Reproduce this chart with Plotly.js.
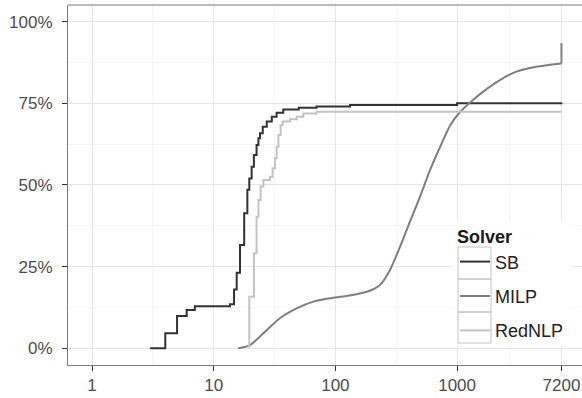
<!DOCTYPE html>
<html>
<head>
<meta charset="utf-8">
<script src="https://cdn.plot.ly/plotly-3.0.1.min.js"></script>
<style>html,body{margin:0;padding:0;background:#fff;}#chart{width:582px;height:398px;}</style>
</head>
<body>
<div id="chart"></div>
<script>
// ---- data ----
const solverNames = ["SB", "MILP", "RedNLP"];

const timeSB   = [3, 4, 5, 6, 7, 13.6, 14.7, 15.45, 16.45, 17.8, 18.9, 19.6, 20.5, 21.4, 22.5, 23.3, 24.0, 25.3, 27.3, 30.0, 32.9, 37.3, 50, 70, 132, 1000, 7200];
const solvedSB = [0, 0.046, 0.099, 0.117, 0.129, 0.135, 0.18, 0.231, 0.316, 0.413, 0.485, 0.52, 0.556, 0.592, 0.622, 0.643, 0.658, 0.678, 0.694, 0.709, 0.721, 0.731, 0.736, 0.74, 0.745, 0.75, 0.752];

const timeMILP   = [15.9, 19.9, 25.6, 35, 48, 65.8, 90.1, 123, 181, 232, 281, 340, 409, 496, 600, 726, 878, 1062, 1350, 1627, 2247, 3069, 4470, 7200, 7200];
const solvedMILP = [0, 0.01, 0.046, 0.092, 0.122, 0.143, 0.153, 0.16, 0.173, 0.194, 0.24, 0.311, 0.387, 0.464, 0.546, 0.617, 0.683, 0.724, 0.760, 0.785, 0.821, 0.847, 0.862, 0.872, 0.934];

const timeRedNLP   = [19.1, 19.6, 21.4, 22.5, 23.3, 24.3, 25.6, 29.0, 30.5, 31.9, 32.9, 34.0, 35.5, 36.9, 42.4, 48.1, 54.5, 70, 7200];
const solvedRedNLP = [0.005, 0.158, 0.291, 0.403, 0.454, 0.495, 0.515, 0.525, 0.551, 0.582, 0.617, 0.653, 0.683, 0.694, 0.701, 0.709, 0.719, 0.724, 0.724];

const xTickVals = [1, 10, 100, 1000, 7200];
const xTickText = ["1", "10", "100", "1000", "7200"];
const yTickVals = [0, 0.25, 0.5, 0.75, 1];
const yTickText = ["0%", "25%", "50%", "75%", "100%"];

// ---- styling ----
const colors = ["#333333", "#7f7f7f", "#c4c4c4"];
const W = 582, H = 398;
const M = {l: 68, r: 0, t: 5, b: 33};
const pw = W - M.l - M.r, ph = H - M.t - M.b;
const px2x = p => (p - M.l) / pw;
const px2y = p => (H - M.b - p) / ph;

const nM = timeMILP.length;
const traces = [
  {type: "scatter", mode: "lines", x: timeSB, y: solvedSB, name: solverNames[0], legendgroup: "g0",
   line: {color: colors[0], width: 2, shape: "hv"}, hoverinfo: "skip"},
  // MILP: smooth rising part, then the final vertical jump at the time limit
  {type: "scatter", mode: "lines", x: timeMILP.slice(0, nM - 1), y: solvedMILP.slice(0, nM - 1), name: solverNames[1], legendgroup: "g1",
   line: {color: colors[1], width: 2, shape: "spline", smoothing: 0.6}, hoverinfo: "skip"},
  {type: "scatter", mode: "lines", x: timeMILP.slice(nM - 2), y: solvedMILP.slice(nM - 2), name: solverNames[1], legendgroup: "g1",
   showlegend: false, line: {color: colors[1], width: 2}, hoverinfo: "skip"},
  {type: "scatter", mode: "lines", x: timeRedNLP, y: solvedRedNLP, name: solverNames[2], legendgroup: "g2",
   line: {color: colors[2], width: 2, shape: "hv"}, hoverinfo: "skip"}
];

const gridMajor = "#e6e6e6", gridMinor = "#efefef";
const font = {family: "Liberation Sans, Arial, sans-serif", size: 17, color: "#4d4d4d"};

const shapes = [
  // legend background
  {type: "rect", xref: "paper", yref: "paper", x0: px2x(452), x1: px2x(572), y0: px2y(346), y1: px2y(221),
   fillcolor: "#ffffff", line: {width: 0}, layer: "above"},
  // top panel border
  {type: "line", xref: "paper", yref: "paper", x0: 0, x1: 1, y0: 1, y1: 1, line: {color: "#7a7a7a", width: 1}, layer: "above"}
];
const keyRows = [[247, 279], [279, 312], [312, 343]];
keyRows.forEach(r => shapes.push({
  type: "rect", xref: "paper", yref: "paper", x0: px2x(458), x1: px2x(491), y0: px2y(r[1]), y1: px2y(r[0]),
  fillcolor: "rgba(255,255,255,0)", line: {color: "#c2c2c2", width: 1}, layer: "above"
}));

const layout = {
  width: W, height: H,
  margin: M,
  paper_bgcolor: "#ffffff", plot_bgcolor: "#ffffff",
  font: font,
  showlegend: true,
  legend: {
    x: px2x(455), xanchor: "left", y: px2y(220), yanchor: "top",
    bgcolor: "rgba(0,0,0,0)", borderwidth: 0,
    title: {text: "Solver", font: {family: font.family, size: 18, color: "#1a1a1a", weight: "bold"}},
    font: {family: font.family, size: 18, color: "#222222"},
    tracegroupgap: 8, itemwidth: 30
  },
  xaxis: {
    type: "log", range: [(M.l - 92) / 121.7, (W - 92) / 121.7],
    tickmode: "array", tickvals: xTickVals, ticktext: xTickText,
    ticks: "outside", ticklen: 5, tickcolor: "#333333", tickwidth: 1,
    showline: true, linecolor: "#7a7a7a", linewidth: 1, mirror: false,
    showgrid: true, gridcolor: gridMajor, gridwidth: 1, zeroline: false,
    minor: {tickmode: "array", tickvals: [Math.pow(10, 0.5), Math.pow(10, 1.5), Math.pow(10, 2.5), Math.pow(10, (3 + Math.log10(7200)) / 2)],
            showgrid: true, gridcolor: gridMinor, gridwidth: 0.6, ticks: ""},
    fixedrange: true
  },
  yaxis: {
    range: [-0.0511, 1.0508],
    tickmode: "array", tickvals: yTickVals, ticktext: yTickText,
    ticks: "outside", ticklen: 5, tickcolor: "#333333", tickwidth: 1,
    showline: true, linecolor: "#7a7a7a", linewidth: 1, mirror: false,
    showgrid: true, gridcolor: gridMajor, gridwidth: 1, zeroline: false,
    minor: {tickmode: "array", tickvals: [0.125, 0.375, 0.625, 0.875], showgrid: true, gridcolor: gridMinor, gridwidth: 0.6, ticks: ""},
    ticklabelstandoff: 6,
    fixedrange: true
  },
  shapes: shapes
};

Plotly.newPlot("chart", traces, layout, {displayModeBar: false, staticPlot: true});
</script>
</body>
</html>
